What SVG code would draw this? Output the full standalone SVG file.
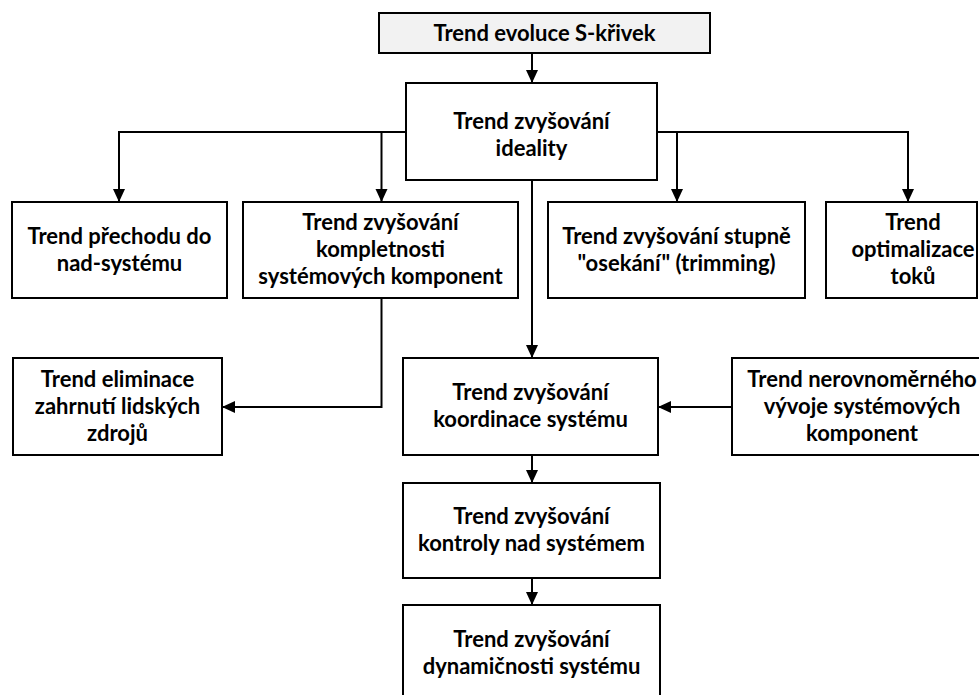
<svg xmlns="http://www.w3.org/2000/svg" width="979" height="695" viewBox="0 0 979 695">
  <style>
    .box { fill: #ffffff; stroke: #000000; stroke-width: 2; }
    .root { fill: #f2f2f2; }
    .lbl { font-family: Lato, "Open Sans", "Liberation Sans", sans-serif; font-weight: bold; font-size: 22px; fill: #000000; text-anchor: middle; }
    .wire { fill: none; stroke: #000000; stroke-width: 2; }
  </style>
  <defs>
    <marker id="arrow" markerUnits="userSpaceOnUse" markerWidth="14" markerHeight="14" viewBox="0 0 14 14" refX="13" refY="7" orient="auto">
      <path d="M0,1 L13,7 L0,13 Z" fill="#000000"/>
    </marker>
  </defs>

  <rect width="979" height="695" fill="#ffffff"/>

  <!-- connectors -->
  <g id="connectors">
    <path class="wire" d="M532,53 V83" marker-end="url(#arrow)"/>
    <path class="wire" d="M406,132 H119 V202" marker-end="url(#arrow)"/>
    <path class="wire" d="M381.5,132 V202" marker-end="url(#arrow)"/>
    <path class="wire" d="M657,132 H908 V202" marker-end="url(#arrow)"/>
    <path class="wire" d="M677,132 V202" marker-end="url(#arrow)"/>
    <path class="wire" d="M532,180 V358" marker-end="url(#arrow)"/>
    <path class="wire" d="M381.5,298 V407 H222" marker-end="url(#arrow)"/>
    <path class="wire" d="M732,407 H658" marker-end="url(#arrow)"/>
    <path class="wire" d="M532,455 V483" marker-end="url(#arrow)"/>
    <path class="wire" d="M532,578 V605" marker-end="url(#arrow)"/>
  </g>

  <g id="s-curve">
    <rect class="box root" x="379" y="13" width="331" height="40"/>
    <text class="lbl" x="544.5" y="41">Trend evoluce S-křivek</text>
  </g>

  <g id="ideality">
    <rect class="box" x="406" y="83" width="251" height="97"/>
    <text class="lbl" x="531.5" y="129">Trend zvyšování</text>
    <text class="lbl" x="531.5" y="156">ideality</text>
  </g>

  <g id="supersystem">
    <rect class="box" x="12" y="202" width="215" height="96"/>
    <text class="lbl" x="119.5" y="244">Trend přechodu do</text>
    <text class="lbl" x="119.5" y="271">nad-systému</text>
  </g>

  <g id="completeness">
    <rect class="box" x="243" y="202" width="275" height="96"/>
    <text class="lbl" x="380.5" y="230">Trend zvyšování</text>
    <text class="lbl" x="380.5" y="257">kompletnosti</text>
    <text class="lbl" x="380.5" y="284">systémových komponent</text>
  </g>

  <g id="trimming">
    <rect class="box" x="548" y="202" width="257" height="96"/>
    <text class="lbl" x="676.5" y="244">Trend zvyšování stupně</text>
    <text class="lbl" x="676.5" y="271">"osekání" (trimming)</text>
  </g>

  <g id="flows">
    <rect class="box" x="826" y="202" width="151" height="96"/>
    <text class="lbl" x="913" y="230">Trend</text>
    <text class="lbl" x="913" y="257">optimalizace</text>
    <text class="lbl" x="913" y="284">toků</text>
  </g>

  <g id="human-involvement">
    <rect class="box" x="13" y="358" width="209" height="97"/>
    <text class="lbl" x="117.5" y="387">Trend eliminace</text>
    <text class="lbl" x="117.5" y="414">zahrnutí lidských</text>
    <text class="lbl" x="117.5" y="441">zdrojů</text>
  </g>

  <g id="coordination">
    <rect class="box" x="403" y="358" width="255" height="97"/>
    <text class="lbl" x="530.5" y="400">Trend zvyšování</text>
    <text class="lbl" x="530.5" y="427">koordinace systému</text>
  </g>

  <g id="uneven-development">
    <rect class="box" x="732" y="358" width="260" height="97"/>
    <text class="lbl" x="862" y="387">Trend nerovnoměrného</text>
    <text class="lbl" x="862" y="414">vývoje systémových</text>
    <text class="lbl" x="862" y="441">komponent</text>
  </g>

  <g id="controllability">
    <rect class="box" x="403" y="483" width="257" height="95"/>
    <text class="lbl" x="531.5" y="524">Trend zvyšování</text>
    <text class="lbl" x="531.5" y="551">kontroly nad systémem</text>
  </g>

  <g id="dynamization">
    <rect class="box" x="403" y="605" width="257" height="100"/>
    <text class="lbl" x="531.5" y="647">Trend zvyšování</text>
    <text class="lbl" x="531.5" y="674">dynamičnosti systému</text>
  </g>
</svg>
